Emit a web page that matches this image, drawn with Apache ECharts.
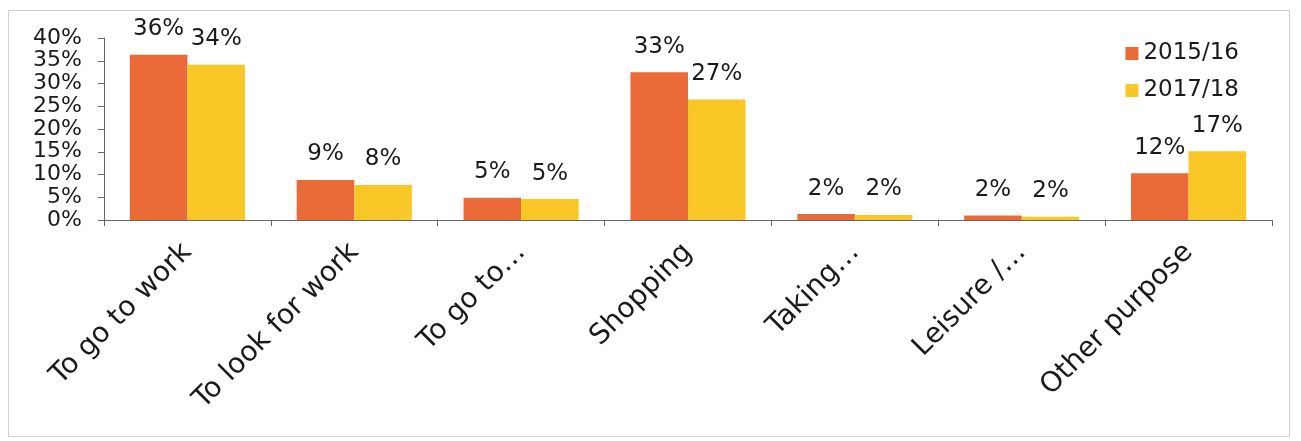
<!DOCTYPE html>
<html>
<head>
<meta charset="utf-8">
<style>
html,body{margin:0;padding:0;background:#fff;}
#chart{width:1301px;height:441px;}
</style>
<script src="https://cdn.jsdelivr.net/npm/echarts@6/dist/echarts.min.js"></script>
</head>
<body>
<div id="chart"></div>
<script>
const categories = ["To go to work", "To look for work", "To go to\u2026", "Shopping", "Taking\u2026", "Leisure /\u2026", "Other purpose"];
const seriesNames = ["2015/16", "2017/18"];
const values2015 = [36.3, 8.8, 4.9, 32.5, 1.3, 1.0, 10.3];
const values2017 = [34.1, 7.7, 4.6, 26.5, 1.1, 0.7, 15.1];
const labels2015 = ["36%", "9%", "5%", "33%", "2%", "2%", "12%"];
const labels2017 = ["34%", "8%", "5%", "27%", "2%", "2%", "17%"];
const yTicks = [0, 5, 10, 15, 20, 25, 30, 35, 40];

const FONT = "DejaVu Sans";
const chart = echarts.init(document.getElementById('chart'));
function mkLabel(arr){
  return {show:true, position:'top', distance:14, fontFamily:FONT, fontSize:23, color:'#1a1a1a',
    formatter: p => arr[p.dataIndex]};
}
chart.setOption({
  animation:false,
  backgroundColor:'#fff',
  graphic:[{type:'rect', shape:{x:8.5,y:10.5,width:1281,height:426}, style:{fill:'none', stroke:'#d0d0d0', lineWidth:1}}],
  legend:{orient:'vertical', right:57, top:37, itemWidth:13, itemHeight:13, itemGap:14,
    textStyle:{fontFamily:FONT, fontSize:23, color:'#1a1a1a'}, data:seriesNames,
    icon:'rect'},
  grid:{left:104, right:29, top:38, bottom:221},
  xAxis:{type:'category', data:categories,
    axisLine:{lineStyle:{color:'#666'}},
    axisTick:{show:true, length:6, lineStyle:{color:'#666'}},
    axisLabel:{rotate:45, interval:0, margin:28, fontFamily:FONT, fontSize:28, color:'#1a1a1a'}},
  yAxis:{type:'value', min:yTicks[0], max:yTicks[yTicks.length-1], interval:5,
    axisLine:{show:true, lineStyle:{color:'#666'}},
    axisTick:{show:true, length:6, lineStyle:{color:'#666'}},
    splitLine:{show:false},
    axisLabel:{margin:22, fontFamily:FONT, fontSize:22, color:'#1a1a1a', lineHeight:18,
      showMinLabel:true, showMaxLabel:true, formatter:'{value}%'}},
  series:[
    {name:seriesNames[0], type:'bar', data:values2015, barGap:'0%', barCategoryGap:'31%',
      itemStyle:{color:'#EB6B38'}, label:mkLabel(labels2015)},
    {name:seriesNames[1], type:'bar', data:values2017, barGap:'0%', barCategoryGap:'31%',
      itemStyle:{color:'#F9C726'}, label:mkLabel(labels2017)}
  ]
});
</script>
</body>
</html>
